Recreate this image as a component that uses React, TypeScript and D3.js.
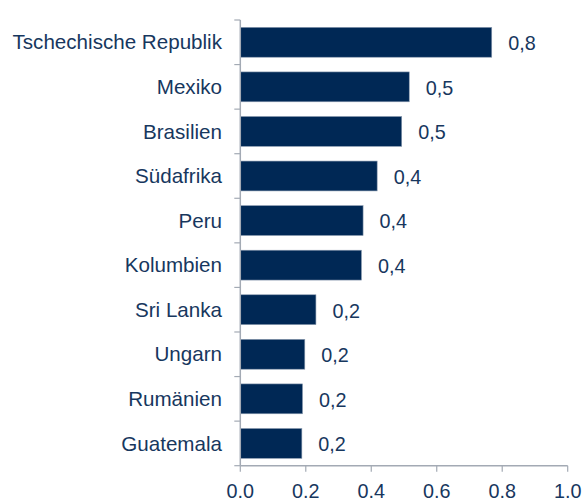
import React from "react";
import * as d3 from "d3";

const categories = [
  "Tschechische Republik",
  "Mexiko",
  "Brasilien",
  "Südafrika",
  "Peru",
  "Kolumbien",
  "Sri Lanka",
  "Ungarn",
  "Rumänien",
  "Guatemala",
];
const values = [0.768, 0.516, 0.493, 0.418, 0.375, 0.37, 0.231, 0.197, 0.19, 0.188];
const valueLabels = ["0,8", "0,5", "0,5", "0,4", "0,4", "0,4", "0,2", "0,2", "0,2", "0,2"];
const xTicks = [0, 0.2, 0.4, 0.6, 0.8, 1.0];

const W = 584;
const H = 498;
const left = 240.3;
const right = 567.7;
const top = 20;
const bottom = 465.7;

const barColor = "#002855";
const textColor = "#17375e";
const axisColor = "#a3aab4";
const font = "Arial, 'Liberation Sans', sans-serif";

export default function App() {
  const x = d3.scaleLinear().domain([0, 1]).range([left, right]);
  const y = d3.scaleBand<string>().domain(categories).range([top, bottom]).paddingInner(0.33).paddingOuter(0.165);
  const step = (bottom - top) / categories.length;
  const boundaries = d3.range(categories.length + 1).map((i) => top + i * step);

  return (
    <svg width={W} height={H} style={{ position: "absolute", left: 0, top: 0 }}>
      <rect width={W} height={H} fill="#fff" />
      {categories.map((c, i) => (
        <g key={c}>
          <rect
            x={x(0)}
            y={y(c)!}
            width={x(values[i]) - x(0)}
            height={y.bandwidth()}
            fill={barColor}
            stroke="#8a9bb0"
            strokeWidth={0.6}
          />
          <text
            x={222}
            y={y(c)! + y.bandwidth() / 2}
            dy="0.35em"
            textAnchor="end"
            fontFamily={font}
            fontSize={20.6}
            fill={textColor}
          >
            {c}
          </text>
          <text
            x={x(values[i]) + 16.5}
            y={y(c)! + y.bandwidth() / 2}
            dy="0.4em"
            textAnchor="start"
            fontFamily={font}
            fontSize={19.8}
            fill={textColor}
          >
            {valueLabels[i]}
          </text>
        </g>
      ))}
      {/* y axis */}
      <line x1={left} x2={left} y1={top} y2={bottom} stroke={axisColor} strokeWidth={1.5} />
      {boundaries.map((b, i) => (
        <line key={i} x1={left - 6} x2={left} y1={b} y2={b} stroke={axisColor} strokeWidth={1.2} />
      ))}
      {/* x axis */}
      <line x1={left} x2={right} y1={bottom} y2={bottom} stroke={axisColor} strokeWidth={1.5} />
      {xTicks.map((t) => (
        <g key={t}>
          <line x1={x(t)} x2={x(t)} y1={bottom} y2={bottom + 6} stroke={axisColor} strokeWidth={1.2} />
          <text
            x={x(t)}
            y={498}
            textAnchor="middle"
            fontFamily={font}
            fontSize={19.8}
            fill={textColor}
          >
            {t.toFixed(1)}
          </text>
        </g>
      ))}
    </svg>
  );
}
